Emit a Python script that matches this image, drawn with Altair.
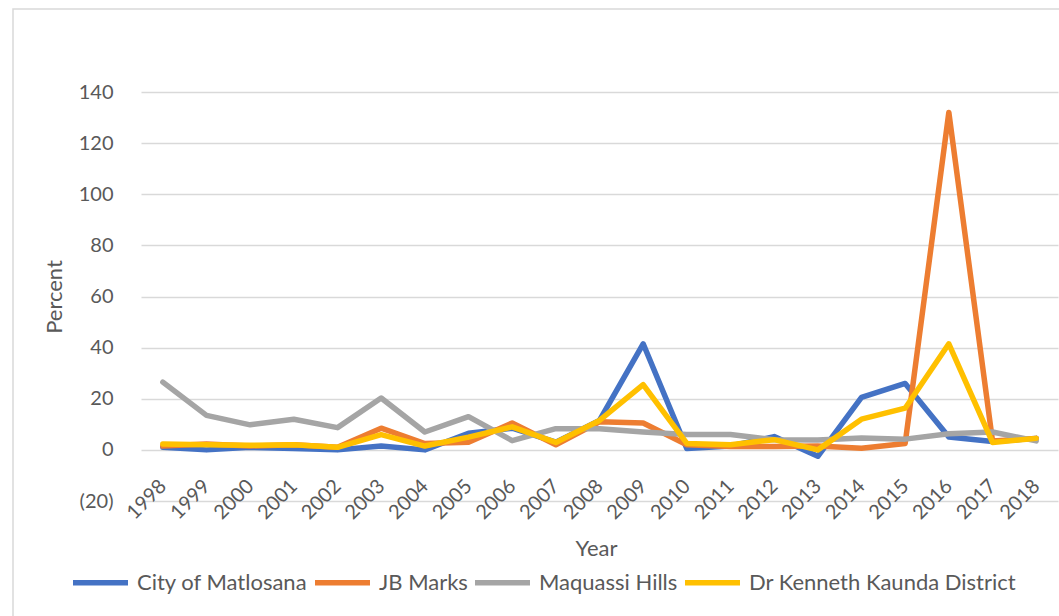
import altair as alt
import pandas as pd

years = [str(y) for y in range(1998, 2019)]

series_names = [
    "City of Matlosana",
    "JB Marks",
    "Maquassi Hills",
    "Dr Kenneth Kaunda District",
]
series_colors = ["#4472C4", "#ED7D31", "#A5A5A5", "#FFC000"]

matlosana = [1, 0, 1, 0.5, 0, 1.5, 0, 6.5, 8.5, 3, 11.5, 41.5, 0.5, 1.5, 5.2,
             -2.5, 20.5, 26, 5, 3.3, 4.5]
jb_marks = [1.5, 2.3, 1.5, 2, 1, 8.5, 2.5, 3, 10.5, 2, 11, 10.5, 2, 1.3, 1.3,
            1.5, 0.6, 2.5, 132, 3.5, 4.5]
maquassi = [26.5, 13.5, 9.8, 12, 8.7, 20.3, 7, 13, 3.6, 8.3, 8.3, 7, 6, 6, 4,
            3.9, 4.6, 4.2, 6.3, 7, 3.5]
kaunda = [2.3, 2, 1.8, 2, 1, 6, 1.5, 5, 9, 2.9, 11.5, 25.5, 2.5, 2, 4, 0, 12,
          16.3, 41.5, 2.9, 4.5]

y_ticks = [-20, 0, 20, 40, 60, 80, 100, 120, 140]

rows = []
for order, (name, values) in enumerate(
    zip(series_names, [matlosana, jb_marks, maquassi, kaunda])
):
    for year, v in zip(years, values):
        rows.append({"Year": year, "Percent": v, "Series": name, "order": order})
df = pd.DataFrame(rows)

FONT = "Lato"
TEXT = "#595959"
GRID = "#D9D9D9"

W, H = 917, 409
zero_offset = -H * 20 / 160  # x axis sits on the zero line

# light outline around the whole chart
frame = alt.Chart(pd.DataFrame({"a": [0]})).mark_rect(
    fillOpacity=0, stroke=GRID, strokeWidth=1.5
).encode(
    x=alt.value(-128), x2=alt.value(W + 40),
    y=alt.value(-83), y2=alt.value(H + 140),
)

lines = alt.Chart(df).mark_line(
    strokeWidth=5.5, strokeJoin="round", strokeCap="round"
).encode(
    x=alt.X(
        "Year:O",
        sort=years,
        scale=alt.Scale(type="point", padding=0.5),
        axis=alt.Axis(
            title="Year",
            labelAngle=-45,
            labelAlign="right",
            labelBaseline="middle",
            labelPadding=33,
            labelFontSize=20,
            labelColor=TEXT,
            ticks=False,
            domain=False,
            grid=False,
            offset=zero_offset,
            titleFontSize=22,
            titleFontWeight="normal",
            titleColor=TEXT,
            titleX=455,
            titleY=99,
            titleBaseline="middle",
            titleAlign="center",
        ),
    ),
    y=alt.Y(
        "Percent:Q",
        scale=alt.Scale(domain=[-20, 140], nice=False, zero=False),
        axis=alt.Axis(
            title="Percent",
            values=y_ticks,
            labelExpr="datum.value < 0 ? '(' + format(-datum.value, ',') + ')' : datum.label",
            labelFontSize=20,
            labelColor=TEXT,
            labelPadding=28,
            ticks=False,
            domain=False,
            gridColor=GRID,
            gridWidth=1.5,
            titleFontSize=22,
            titleFontWeight="normal",
            titleColor=TEXT,
            titleAngle=-90,
            titleX=-87,
            titleY=H / 2,
            titleAlign="center",
            titleBaseline="middle",
        ),
    ),
    color=alt.Color(
        "Series:N",
        sort=series_names,
        scale=alt.Scale(domain=series_names, range=series_colors),
        legend=alt.Legend(
            title=None,
            orient="none",
            direction="horizontal",
            legendX=-71,
            legendY=460,
            symbolType="stroke",
            symbolSize=3025,
            symbolStrokeWidth=5.5,
            labelFontSize=22,
            labelColor=TEXT,
            labelOffset=6,
            columnPadding=-4,
            padding=0,
            labelLimit=400,
        ),
    ),
    order=alt.Order("order:Q"),
)

chart = (
    alt.layer(frame, lines)
    .properties(
        width=W,
        height=H,
        padding={"left": 141, "top": 92, "right": 1, "bottom": 115},
        autosize=alt.AutoSizeParams(type="none"),
    )
    .configure(font=FONT)
    .configure_view(stroke=None)
)

chart.save("out.html", embed_options={"renderer": "svg", "actions": False})
